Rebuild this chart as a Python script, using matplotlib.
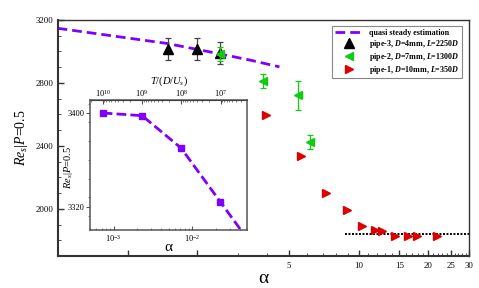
import numpy as np
import matplotlib
matplotlib.use('Agg')
import matplotlib.pyplot as plt
from matplotlib.lines import Line2D
from matplotlib.ticker import MultipleLocator, FixedLocator, NullFormatter, LogLocator

plt.rcParams['font.family'] = ['Liberation Serif', 'DejaVu Serif']
plt.rcParams['mathtext.fontset'] = 'custom'
plt.rcParams['mathtext.rm'] = 'Liberation Serif'
plt.rcParams['mathtext.it'] = 'Liberation Serif:italic'
plt.rcParams['mathtext.bf'] = 'Liberation Serif:bold'
plt.rcParams['mathtext.bfit'] = 'Liberation Serif:italic:bold'

# quasi steady estimation (inset markers on the first four points)
qs_alpha = [7.24e-4, 2.30e-3, 7.21e-3, 2.28e-2, 7.2e-2, 0.5, 1.48, 2.44, 3.39, 4.54]
qs_re = [3400, 3397.7, 3370, 3324, 3278, 3147, 3051, 2988, 2945, 2902]

# pipe-3, D=4mm
p3_alpha = [1.50, 2.00, 2.50]
p3_re = [3015, 3015, 2988]
p3_err = [68, 68, 69]

# pipe-2, D=7mm
p2_alpha = [2.50, 3.87, 5.48, 6.17]
p2_re = [2982, 2811, 2721, 2424]
p2_err = [45, 45, 91, 42]

# pipe-1, D=10mm
p1_alpha = [3.98, 5.62, 7.25, 8.88, 10.3, 11.76, 12.57, 14.39, 16.28, 17.8, 21.86]
p1_re = [2598, 2334, 2101, 1992, 1894, 1865, 1858, 1828, 1828, 1828, 1828]

# asymptote
asym_alpha = [8.73, 30]
asym_re = [1841, 1841]

# T/(D/U_s) = T_CONST / alpha^2
T_CONST = 1e10 * 7.24e-4 ** 2

purple = '#7f00ff'
green = '#11cc11'
red = '#dd0000'

fig = plt.figure(figsize=(4.79, 2.88), dpi=100)
ax = fig.add_axes([0.1211, 0.111, 0.858, 0.8196])

ax.plot(qs_alpha, qs_re, color=purple, lw=2, dashes=(3.5, 1.8), zorder=2)
ax.errorbar(p3_alpha, p3_re, yerr=p3_err, fmt='^', color='black', ms=7.5,
            ecolor='#444444', elinewidth=0.9, capsize=2.4, capthick=0.9, zorder=3)
ax.errorbar(p2_alpha, p2_re, yerr=p2_err, fmt='<', color=green, ms=6,
            ecolor=green, elinewidth=0.9, capsize=2.4, capthick=0.9, zorder=4)
ax.plot(p1_alpha, p1_re, '>', color=red, ms=6, zorder=4)
ax.plot(asym_alpha, asym_re, color='black', lw=1.4, ls=(0, (1, 0.8)), zorder=2)

ax.set_xscale('log')
ax.set_xlim(0.5, 30)
ax.set_ylim(1700, 3200)
ax.xaxis.set_major_locator(FixedLocator([1, 2, 5, 10, 15, 20, 25, 30]))
ax.set_xticklabels(['', '', '5', '10', '15', '20', '25', '30'])
ax.xaxis.set_minor_locator(FixedLocator([3, 4, 6, 7, 8, 9, 11, 12, 13, 14, 16, 17, 18, 19,
                                         21, 22, 23, 24, 26, 27, 28, 29]))
ax.xaxis.set_minor_formatter(NullFormatter())
ax.yaxis.set_major_locator(MultipleLocator(400))
ax.yaxis.set_minor_locator(MultipleLocator(100))
ax.tick_params(which='both', direction='in', labelsize=6.3, top=False, right=False,
               color='#333333')
ax.tick_params(which='major', length=4, width=1.0)
ax.tick_params(which='minor', length=2, width=0.6)
ax.tick_params(axis='x', pad=4)
for s in ['left', 'bottom']:
    ax.spines[s].set_linewidth(1.5)
    ax.spines[s].set_color('#333333')
for s in ['top', 'right']:
    ax.spines[s].set_linewidth(1.0)
    ax.spines[s].set_color('#333333')

ax.set_xlabel('α', fontsize=14, labelpad=0)
ax.set_ylabel(r'$Re_s|P$=0.5', fontsize=10, labelpad=4)

handles = [
    Line2D([], [], color=purple, lw=2, dashes=(3.5, 1.8)),
    Line2D([], [], ls='none', marker='^', color='black', ms=7.5),
    Line2D([], [], ls='none', marker='<', color=green, ms=6),
    Line2D([], [], ls='none', marker='>', color=red, ms=6),
]
labels = [
    r'quasi steady estimation',
    r'pipe-3, $\mathbfit{D}$=4mm, $\mathbfit{L}$=2250$\mathbfit{D}$',
    r'pipe-2, $\mathbfit{D}$=7mm, $\mathbfit{L}$=1300$\mathbfit{D}$',
    r'pipe-1, $\mathbfit{D}$=10mm, $\mathbfit{L}$=350$\mathbfit{D}$',
]
leg = ax.legend(handles, labels, loc='upper right', prop={'weight': 'bold', 'size': 5.8},
                fancybox=False, edgecolor='#888888', framealpha=1, handlelength=3.6,
                labelspacing=0.1, borderpad=0.35, handletextpad=0.6,
                bbox_to_anchor=(0.992, 0.99))
leg.get_frame().set_linewidth(0.8)

# inset
ins = fig.add_axes([0.188, 0.2014, 0.328, 0.451])
ins.plot(qs_alpha, qs_re, color=purple, lw=2, dashes=(3.5, 1.5), marker='s', ms=4,
         markevery=[0, 1, 2, 3])
ins.set_xscale('log')
ins.set_xlim(5e-4, 5e-2)
ins.set_ylim(3300, 3411)
ins.yaxis.set_major_locator(FixedLocator([3320, 3400]))
ins.yaxis.set_minor_locator(MultipleLocator(16))
ins.xaxis.set_minor_locator(LogLocator(base=10, subs=np.arange(2, 10)))
ins.xaxis.set_minor_formatter(NullFormatter())
ins.tick_params(axis='x', which='both', direction='in', labelsize=6, pad=2, color='#555555')
ins.tick_params(axis='y', which='both', direction='out', labelsize=6, pad=1, color='#555555')
ins.tick_params(which='major', length=3, width=0.8)
ins.tick_params(which='minor', length=1.5, width=0.5)
for s in ins.spines.values():
    s.set_linewidth(1.1)
    s.set_color('#555555')
ins.set_xlabel('α', fontsize=11, labelpad=-2)
ins.set_ylabel(r'$Re_s|P$=0.5', fontsize=7.5)
ins.yaxis.set_label_coords(-0.095, 0.48)

sec = ins.secondary_xaxis('top', functions=(lambda a: T_CONST / np.maximum(a, 1e-12) ** 2,
                                            lambda t: np.sqrt(T_CONST / np.maximum(t, 1e-12))))
sec.tick_params(which='both', direction='in', labelsize=6, pad=1, color='#555555')
sec.tick_params(which='major', length=3, width=0.8)
sec.tick_params(which='minor', length=1.5, width=0.5)
sec.set_xlabel(r'$T/(D/U_s)$', fontsize=7.5, labelpad=3)

fig.savefig('out.png', dpi=100)
